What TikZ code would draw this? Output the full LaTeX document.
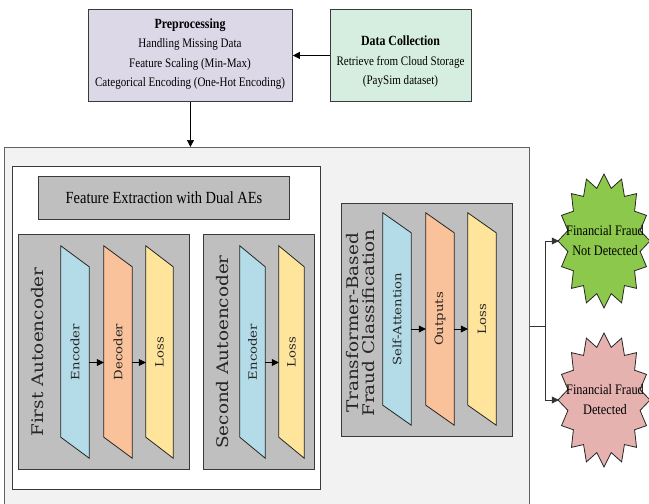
\documentclass[tikz,border=0pt]{standalone}
\usepackage{fontspec}
\usetikzlibrary{calc,arrows.meta}
\newfontfamily\tnr[FakeStretch=0.85]{Liberation Serif}
\newfontfamily\widef[FakeStretch=1.15]{DejaVu Serif}
\definecolor{prefill}{HTML}{DDD8E8}
\definecolor{dcfill}{HTML}{D6EEDF}
\definecolor{outerfill}{HTML}{F2F2F2}
\definecolor{grayfill}{HTML}{BFBFBF}
\definecolor{bluefill}{HTML}{B4DCE8}
\definecolor{peachfill}{HTML}{F9C29B}
\definecolor{yellowfill}{HTML}{FFE49C}
\definecolor{greenfill}{HTML}{8CC84B}
\definecolor{pinkfill}{HTML}{E5B2B0}
\definecolor{edge}{HTML}{3A3A3A}
\tikzset{
  topbox/.style={draw=edge, line width=0.9pt, inner sep=0pt, anchor=north west, align=center},
  toptext/.style={font=\tnr\fontsize{13}{19.5}\selectfont, align=center, text=black},
  outerbox/.style={draw=edge!80, line width=0.9pt, fill=outerfill, inner sep=0pt, anchor=north west},
  whitebox/.style={draw=edge, line width=0.9pt, fill=white, inner sep=0pt, anchor=north west},
  graybox/.style={draw=edge, line width=0.9pt, fill=grayfill, inner sep=0pt, anchor=north west},
  pbox/.style={inner sep=0pt},
  pline/.style={draw=black!85, line width=0.8pt},
  plabel/.style={font=\widef\fontsize{11.5}{12}\selectfont, text=black!85, inner sep=0pt},
  aetitle/.style={font=\widef\fontsize{16}{16}\selectfont, text=black!85, inner sep=0pt, align=center},
  arr/.style={line width=0.7pt, -{Triangle[length=7pt,width=7pt]}},
  conn/.style={line width=0.7pt, draw=black!80},
  starline/.style={draw=black!85, line width=0.8pt},
  startext/.style={font=\tnr\fontsize{14.5}{20}\selectfont, align=center, inner sep=0pt, minimum width=92pt, minimum height=134pt},
}
\def\pslant{21}
\newcommand\mypgram[7]{%
  \node[pbox, minimum width={#3-#2}, minimum height={#5-#4}] (#1) at ({(#2+#3)/2},{(#4+#5)/2}) {};
  \draw[pline, fill=#6] ($(#1.north west)+(0,-\pslant)$) -- (#1.north east) -- (#1.south east) -- ($(#1.south west)+(0,-\pslant)$) -- cycle;
  \node[plabel, rotate=90] (#1l) at ($(#1.center)+(0,-\pslant/2)$) {#7};
}
\newcommand\mystar[5]{% cx cy rx ry fill
  \draw[starline, fill=#5] ({#1+#3},#2) \foreach \i in {1,...,31}{ -- ({#1+#3*(1-0.2*mod(\i,2))*cos(\i*11.25)},{#2+#4*(1-0.2*mod(\i,2))*sin(\i*11.25)}) } -- cycle;
}
\begin{document}
\begin{tikzpicture}[x=1pt,y=-1pt]
\useasboundingbox (0,0) rectangle (649,504);
\clip (0,0) rectangle (649,504);

% top boxes
\node[topbox, fill=prefill, minimum width=204pt, minimum height=92pt] (pre) at (88,9) {};
\node[toptext] (pretxt) at (190,54) {{\fontsize{14}{19.5}\selectfont\textbf{Preprocessing}}\\Handling Missing Data\\Feature Scaling (Min-Max)\\Categorical Encoding (One-Hot Encoding)};
\node[topbox, fill=dcfill, minimum width=141pt, minimum height=92pt] (dc) at (330,9) {};
\node[toptext] (dctxt) at (400.5,62) {{\fontsize{14}{19.5}\selectfont\textbf{Data Collection}}\\Retrieve from Cloud Storage\\(PaySim dataset)};
\draw[arr] (dc.west) -- (pre.east);

% outer container
\node[outerbox, minimum width=525pt, minimum height=362pt] (outer) at (4,147) {};
\draw[arr] (pre.south) -- (pre.south |- outer.north);

% feature extraction
\node[whitebox, minimum width=308pt, minimum height=323pt] (fe) at (12,166) {};
\node[graybox, minimum width=251pt, minimum height=43pt, font=\tnr\fontsize{17}{20}\selectfont] (fetitle) at (38,176) {Feature Extraction with Dual AEs};

% first AE
\node[graybox, minimum width=171pt, minimum height=235pt] (ae1) at (18,234) {};
\node[aetitle, rotate=90] (ae1t) at (38,352) {First Autoencoder};
\mypgram{enc1}{61}{89}{267}{458}{bluefill}{Encoder}
\mypgram{dec1}{104}{132}{267}{458}{peachfill}{Decoder}
\mypgram{loss1}{146}{173}{267}{458}{yellowfill}{Loss}
\draw[arr] (enc1.east) -- (dec1.west);
\draw[arr] (dec1.east) -- (loss1.west);

% second AE
\node[graybox, minimum width=111pt, minimum height=235pt] (ae2) at (203,234) {};
\node[aetitle, rotate=90] (ae2t) at (223,352) {Second Autoencoder};
\mypgram{enc2}{240}{265}{267}{458}{bluefill}{Encoder}
\mypgram{loss2}{279}{304}{267}{458}{yellowfill}{Loss}
\draw[arr] (enc2.east) -- (loss2.west);

% transformer
\def\pslant{20}
\node[graybox, minimum width=171pt, minimum height=233pt] (tr) at (341,203) {};
\node[aetitle, rotate=90] (trt) at (361,323) {Transformer-Based\\Fraud Classification};
\mypgram{sa}{383}{411}{233}{425}{bluefill}{Self-Attention}
\mypgram{outp}{426}{454}{233}{425}{peachfill}{Outputs}
\mypgram{loss3}{468}{496}{233}{425}{yellowfill}{Loss}
\draw[arr] (sa.east) -- (outp.west);
\draw[arr] (outp.east) -- (loss3.west);

% stars
\mystar{604}{241}{46}{67}{greenfill}
\node[startext] (gs) at (605,241) {Financial Fraud\\Not Detected};
\mystar{604}{400}{46}{67}{pinkfill}
\node[startext] (rs) at (605,400) {Financial Fraud\\Detected};

\coordinate (junc) at (545,326);
\draw[conn] (outer.east |- junc) -- (junc);
\draw[conn, arr] (junc) |- (gs.west);
\draw[conn, arr] (junc) |- (rs.west);
\end{tikzpicture}
\end{document}
